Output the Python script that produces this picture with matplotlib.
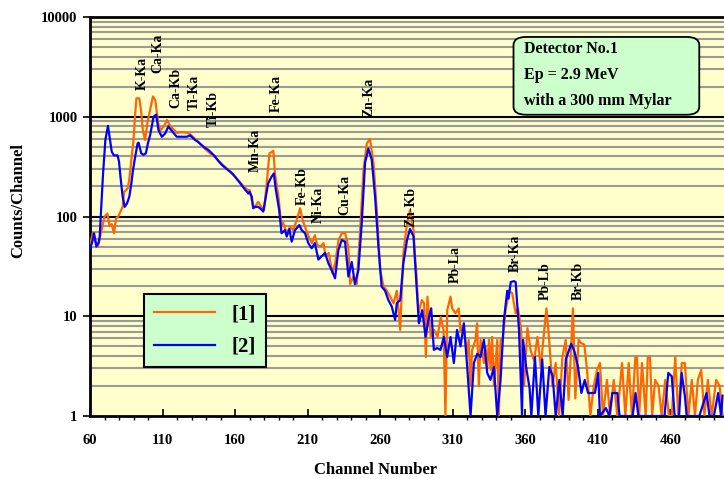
import numpy as np
import matplotlib
matplotlib.use("Agg")
import matplotlib.pyplot as plt
from matplotlib.patches import FancyBboxPatch
from matplotlib.ticker import FixedLocator, NullLocator, NullFormatter

# spectrum [1] (orange)
ch1 = [60, 62, 64, 65.5, 67, 68.5, 70, 72, 73.5, 75, 76.5, 78, 79.5, 81, 82.5, 83.5, 85, 86, 87, 88,
       90, 91, 92, 94, 95.3, 96.4, 98, 99.5, 101, 103.4, 105, 107, 108.6, 111, 113, 114.8, 117, 120, 123, 127,
       129, 132, 135, 138.6, 142, 145.5, 148, 150, 153, 157, 160, 164, 166, 168.5, 170, 172.5, 174, 176, 178, 180,
       181.8, 183.7, 186.4, 187.5, 189.9, 192, 193, 195.6, 198, 200, 202.5, 204.8, 206.6, 209, 211.3, 213, 215, 216.5, 218.8, 221,
       222.3, 224.6, 227, 229, 231.3, 233.6, 235.9, 238, 239.3, 241.6, 243.9, 246.2, 248.5, 250.8, 253, 255.4, 257.7, 260, 262.3, 264.6,
       266.9, 269.2, 271.5, 273.8, 276, 278.5, 280.6, 283, 284, 285, 286.4, 288.7, 290.3, 291.5, 292.6, 294.9, 297.2, 299.5, 301.8, 303.7,
       305, 306.2, 308.5, 309.6, 311.9, 314.2, 315.4, 317.5, 319.8, 321, 322.2, 323.4, 325.7, 326.8, 328, 329.2, 331.5, 332.6, 333.8, 335,
       336.1, 337.2, 338.4, 340.7, 341.8, 343, 344.5, 346.5, 348.8, 351, 353.4, 355, 356.9, 359.2, 361.5, 363.8, 366.1, 368.4, 370.7, 373,
       374.6, 376.4, 378.7, 381, 383.3, 385.6, 387.9, 389.9, 392.9, 394.5, 396.8, 398.4, 400.7, 402.6, 404.9, 407.2, 409.5, 411.5, 413.6, 416.3,
       418.5, 421, 423.5, 426.7, 429, 431.3, 433.5, 435.9, 437, 438.5, 440.5, 443, 444.5, 446, 447.5, 449.5, 451.9, 454, 456.5, 459,
       461, 463.4, 465.5, 467.9, 470, 472.5, 474.8, 477, 479, 481.3, 483.5, 485.9, 488.5, 491.6, 494, 496]
cnt1 = [52, 68, 55, 50, 63, 80, 100, 107, 80, 84, 68, 96, 100, 112, 125, 177, 185, 192, 232, 316,
        585, 1000, 1530, 1530, 1110, 735, 585, 860, 1090, 1600, 1470, 860, 735, 800, 930, 830, 760, 690, 700, 690,
        670, 610, 550, 485, 440, 400, 370, 345, 315, 280, 250, 215, 200, 185, 184, 125, 128, 140, 125, 116,
        215, 430, 455, 270, 158, 79, 87, 68, 79, 73, 92, 121, 92, 73, 60, 54, 65, 52, 50, 54,
        40, 43, 27, 34, 58, 68, 68, 50, 21, 25, 21, 73, 290, 540, 600, 345, 116, 29, 20, 18,
        15.7, 13.5, 18, 7.3, 43, 85, 116, 73, 40, 27, 10.7, 14.5, 13.5, 3.9, 15.7, 6.2, 7.3, 6.2, 9.8, 7.3,
        1, 11.5, 15.7, 12, 10.7, 12, 7, 8, 4.2, 5.8, 2, 4.6, 5.8, 8.5, 2, 5.8, 3.4, 5, 2.9, 5.8,
        2.9, 6.2, 2, 5.8, 1, 5.8, 6, 11.5, 18, 17, 10.7, 12, 7.9, 2, 7.6, 4.5, 3.6, 6.2, 3.1, 7,
        12, 6, 2, 3.4, 1, 3.9, 5.8, 1.45, 12, 1.5, 5.8, 5.4, 5.2, 2.9, 1, 2, 2.9, 3.4, 1, 2.3,
        1, 2.3, 1, 3.4, 1, 3.4, 1, 3.9, 3.9, 1, 3.4, 1, 3.9, 3.9, 1, 2.3, 2, 1, 2.3, 1,
        1, 3.9, 1, 3.4, 3.4, 1, 2.3, 1, 2.3, 2.9, 1, 2.3, 1, 2.3, 2, 1]

# spectrum [2] (blue)
ch2 = [60, 61.5, 62.8, 64.4, 66, 66.7, 67.4, 69, 70.6, 72.4, 73.5, 75, 76.5, 79, 80, 81, 82.5, 83.9, 85.5, 87.1,
       88.5, 89.6, 91.2, 92.8, 93.5, 95.3, 96.9, 98.5, 99.9, 101.5, 103.8, 105.6, 107.2, 109.5, 111.8, 114, 116.4, 119.8, 123, 126.7,
       129, 132.4, 134.5, 137, 139, 141.6, 144, 146.2, 148.5, 150.8, 153, 155.4, 158, 160, 162, 164.6, 167, 169.2, 170, 171.5,
       172.5, 174, 176, 178, 179.4, 182.8, 185.1, 186.7, 188.1, 190.4, 192, 194.4, 195.6, 197.4, 199, 201.3, 204.3, 205.9, 208.2, 210.5,
       212.8, 215, 217.4, 219.7, 222, 224.3, 226.6, 228.9, 231.2, 233.5, 235.8, 238.1, 240.4, 242.6, 245, 247.3, 249.6, 251.9, 254.2, 256.5,
       258.8, 261, 263.4, 265.7, 268, 270.3, 271.5, 273.8, 276, 278.5, 280.6, 283, 284.4, 286.7, 289, 291.3, 293.6, 295.2, 297, 299.3,
       301.6, 303.9, 306.2, 308.5, 310.8, 313, 315.4, 317.7, 320, 322.3, 324.6, 326.9, 329.2, 331.5, 333.8, 336, 338.4, 340.7, 343, 345.3,
       347.6, 348.5, 350, 352.2, 353.4, 355.7, 357.8, 358.5, 360.6, 363, 364.2, 366.7, 369, 371.7, 374, 376.6, 378.9, 381, 383.5, 385.8,
       388, 391.7, 394, 396.4, 398.7, 401, 403.3, 405.6, 408, 410.3, 411.5, 415.6, 418, 420, 423.5, 425, 430, 434, 436, 438,
       445, 450, 456, 458.6, 461, 463, 466, 467.8, 470, 471.3, 475, 480, 485, 487, 490, 493, 495, 496]
cnt2 = [48, 55, 68, 50, 55, 63, 100, 270, 585, 810, 630, 445, 410, 410, 355, 250, 158, 125, 135, 158,
        215, 290, 400, 540, 550, 430, 415, 430, 540, 660, 1000, 1050, 735, 630, 680, 800, 720, 630, 630, 630,
        650, 585, 560, 520, 490, 465, 430, 400, 360, 330, 310, 290, 270, 250, 230, 205, 185, 170, 177, 158,
        121, 125, 125, 118, 112, 215, 250, 270, 185, 116, 68, 73, 63, 75, 56, 73, 82, 73, 68, 54,
        48, 54, 37, 40, 43, 34, 29, 24, 46, 58, 56, 25, 35, 21, 29, 86, 345, 480, 370, 158,
        50, 19.8, 18, 14.5, 12.5, 9.2, 13.5, 14.5, 34, 58, 75, 63, 29, 8.5, 11.5, 6.2, 9.8, 12, 4.6, 4.8,
        4.6, 6.2, 3.9, 6.2, 3.4, 7.3, 5, 8.5, 3.1, 1, 3.4, 4.2, 3.9, 5.8, 2.7, 2.3, 3.1, 1, 2.3, 9.2,
        18, 15, 22, 22.5, 22, 7.3, 1, 5.8, 3.1, 1.9, 1, 3.9, 1, 3.7, 1, 3.1, 2.5, 1, 2.3, 1,
        3.7, 5.3, 4.4, 3.1, 1.7, 2.3, 1.7, 1.7, 1.7, 2.7, 1, 1.2, 1, 1.7, 1.7, 1, 1, 1, 1.7, 1,
        1, 1, 1, 2.7, 2.5, 1, 1, 2.7, 1.6, 1, 1, 1, 1.7, 1, 1, 1.7, 1, 1.6]

# peak labels
peak_names = ["K-Ka", "Ca-Ka", "Ca-Kb", "Ti-Ka", "Ti-Kb", "Mn-Ka", "Fe-Ka", "Fe-Kb",
              "Ni-Ka", "Cu-Ka", "Zn-Ka", "Zn-Kb", "Pb-La", "Br-Ka", "Pb-Lb", "Br-Kb"]
peak_ch = [95.9, 106.9, 119.3, 131.7, 144.8, 173.8, 188.3, 206.2,
           217.2, 235.9, 252.4, 281.4, 311.7, 353.1, 373.8, 396.6]
peak_y = [1855, 2750, 1224, 1170, 789, 279, 1116, 130,
          86, 104, 995, 78, 21.5, 27.8, 14.5, 14.5]

info_lines = ["Detector No.1", "Ep = 2.9 MeV", "with a 300 mm Mylar"]

serif = "Liberation Serif"

fig = plt.figure(figsize=(7.24, 4.79), dpi=100)
ax = fig.add_axes([90/724, 1-416/479, 634/724, 399/479])
ax.set_facecolor("#FFFFCC")

ax.set_yscale("log")
ax.set_ylim(1, 10000)
ax.set_xlim(60, 497)

# horizontal grid lines
for dec in [1, 10, 100, 1000]:
    for k in range(2, 10):
        ax.axhline(dec*k, color="#9A9A9A", lw=1.5, zorder=1)
for dec in [10, 100, 1000]:
    ax.axhline(dec, color="black", lw=1.5, zorder=1)

ax.plot(ch1, cnt1, color="#FF6600", lw=1.6, label="[1]", zorder=3)
ax.plot(ch2, cnt2, color="#0000FF", lw=1.6, label="[2]", zorder=4)

# ticks
ax.xaxis.set_major_locator(FixedLocator(np.arange(60, 461, 50)))
ax.xaxis.set_minor_locator(FixedLocator(np.arange(60, 497, 10)))
ax.yaxis.set_major_locator(FixedLocator([1, 10, 100, 1000, 10000]))
ax.yaxis.set_minor_locator(NullLocator())
ax.yaxis.set_minor_formatter(NullFormatter())
ax.set_yticklabels(["1", "10", "100", "1000", "10000"])
ax.tick_params(axis="x", which="major", direction="in", length=5, width=1.2, pad=13)
ax.tick_params(axis="x", which="minor", direction="out", length=3, width=1)
ax.tick_params(axis="y", which="major", direction="out", length=5, width=1.2, pad=4)
for lab in ax.get_xticklabels() + ax.get_yticklabels():
    lab.set_fontfamily(serif)
    lab.set_fontweight("bold")
    lab.set_fontsize(10.5)

for s in ["left", "bottom", "top"]:
    ax.spines[s].set_linewidth(2)
ax.spines["right"].set_visible(False)

for name, x, y in zip(peak_names, peak_ch, peak_y):
    ax.text(x, y, name, rotation=90, ha="center", va="bottom",
            fontfamily=serif, fontweight="bold", fontsize=10, zorder=5)

# info box
box = FancyBboxPatch((0.668, 0.755), 0.293, 0.195, transform=ax.transAxes,
                     boxstyle="round,pad=0,rounding_size=0.02",
                     facecolor="#CCFFCC", edgecolor="black", lw=1.3, zorder=6)
ax.add_patch(box)
for i, line in enumerate(info_lines):
    ax.text(0.684, 0.92 - i*0.065, line, transform=ax.transAxes, ha="left", va="center",
            fontfamily=serif, fontweight="bold", fontsize=11.5, zorder=7)

leg = ax.legend(loc="upper left", bbox_to_anchor=((144-90)/634, (416-294)/399),
                borderaxespad=0, fancybox=False, framealpha=1, facecolor="#CCFFCC",
                edgecolor="black", handlelength=2.9, handletextpad=0.8, labelspacing=0.6,
                borderpad=0.5, prop={"family": serif, "weight": "bold", "size": 15})
leg.get_frame().set_linewidth(1.5)
leg.set_zorder(8)

fig.text(375/724, 1-470/479, "Channel Number", ha="center", va="center",
         fontfamily=serif, fontweight="bold", fontsize=12)
fig.text(18/724, 1-200/479, "Counts/Channel", ha="center", va="center", rotation=90,
         fontfamily=serif, fontweight="bold", fontsize=12)

fig.savefig("out.png", dpi=100)
